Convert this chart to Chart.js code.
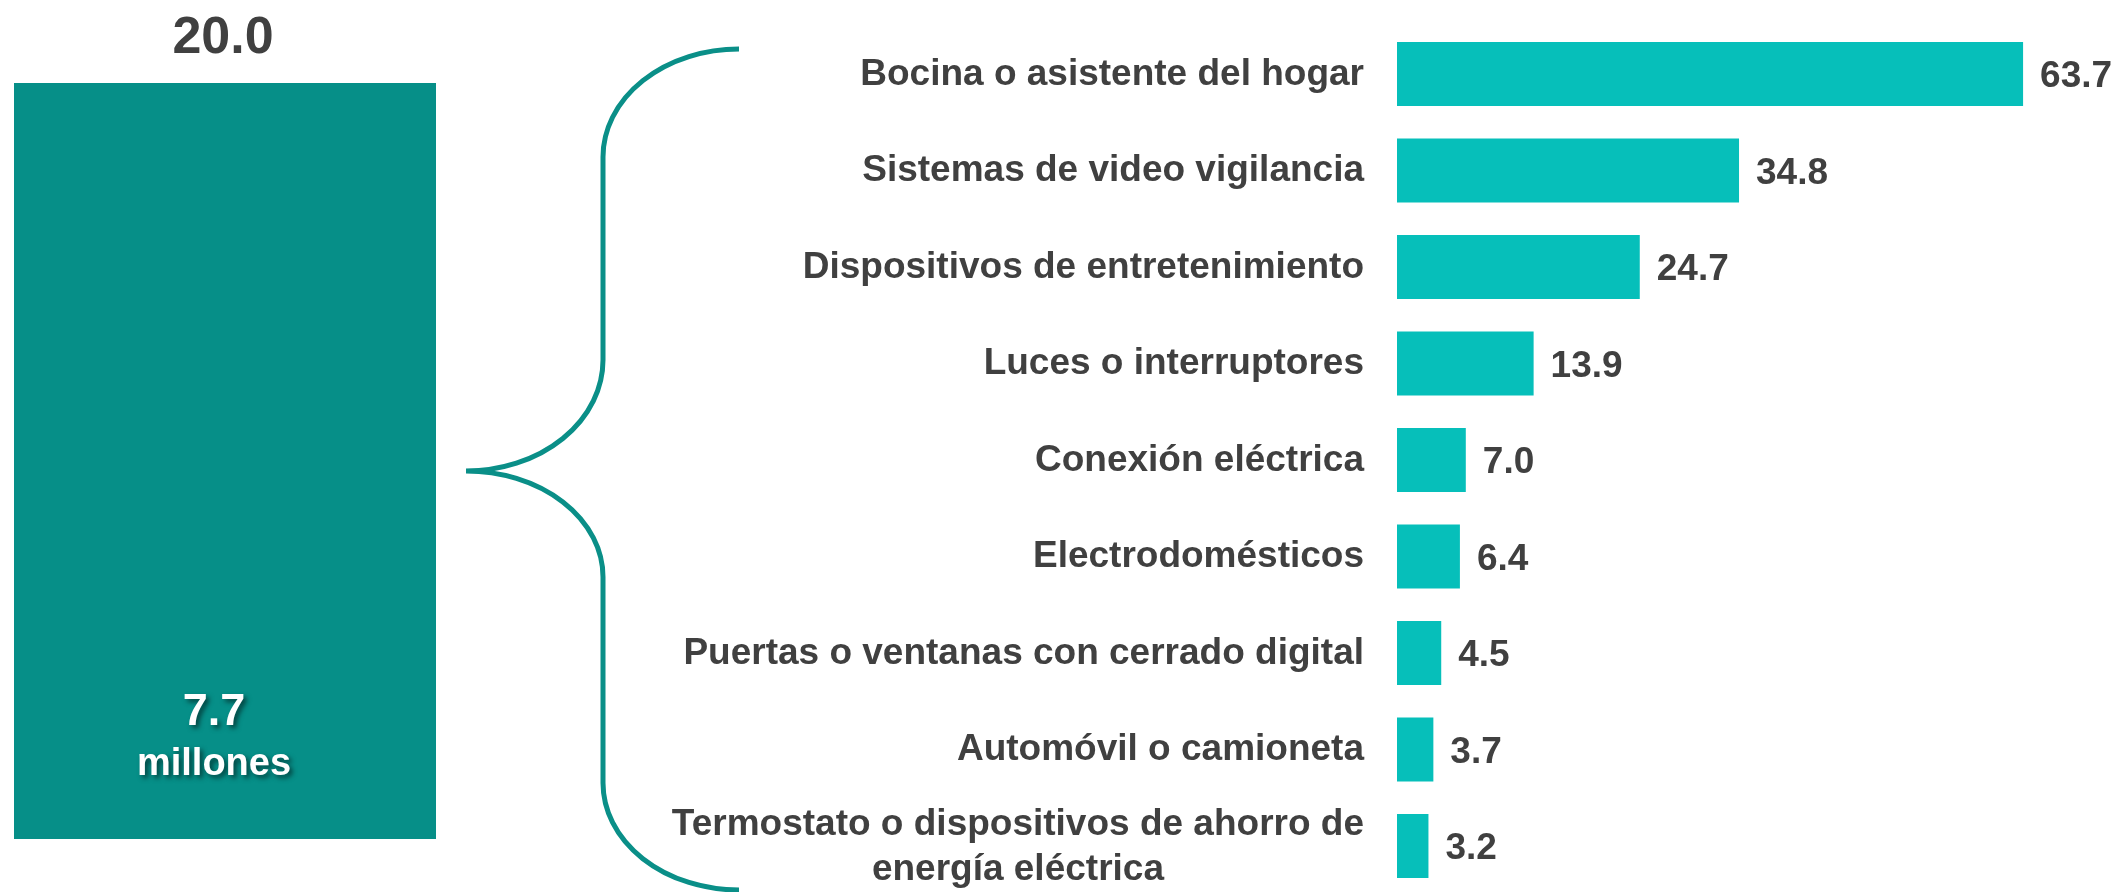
<!DOCTYPE html>
<html>
<head>
<meta charset="utf-8">
<script src="https://cdn.jsdelivr.net/npm/chart.js@4.4.1/dist/chart.umd.min.js"></script>
<style>
  html, body { margin: 0; padding: 0; background: #ffffff; overflow: hidden; }
  #wrap { position: relative; width: 2116px; height: 892px; }
  #main { position: absolute; left: 0; top: 0; }
  #left { position: absolute; left: 0; top: 0; }
</style>
</head>
<body>
<div id="wrap">
  <canvas id="main" width="2116" height="892"></canvas>
  <canvas id="left" width="460" height="892"></canvas>
</div>
<script>
// ---- data ----
const categories = [
  'Bocina o asistente del hogar',
  'Sistemas de video vigilancia',
  'Dispositivos de entretenimiento',
  'Luces o interruptores',
  'Conexión eléctrica',
  'Electrodomésticos',
  'Puertas o ventanas con cerrado digital',
  'Automóvil o camioneta',
  ['Termostato o dispositivos de ahorro de', 'energía eléctrica']
];
const values = [63.7, 34.8, 24.7, 13.9, 7.0, 6.4, 4.5, 3.7, 3.2];
const totalCategory = ['Total'];
const totalValues = [20.0];
const totalSubLabels = ['7.7', 'millones'];

const FONT = '"Liberation Sans", Arial, Helvetica, sans-serif';
const TEXT = '#404040';

// category labels + value labels for the right chart
const labelsPlugin = {
  id: 'labelsPlugin',
  afterDatasetsDraw(chart) {
    const ctx = chart.ctx;
    const yScale = chart.scales.y;
    const meta = chart.getDatasetMeta(0);
    const rightEdge = chart.chartArea.left - 33;
    ctx.save();
    ctx.fillStyle = TEXT;
    ctx.font = 'bold 37px ' + FONT;
    ctx.textBaseline = 'alphabetic';
    categories.forEach((lab, i) => {
      const py = yScale.getPixelForValue(i);
      if (Array.isArray(lab)) {
        const widths = lab.map(l => ctx.measureText(l).width);
        const maxW = Math.max(...widths);
        const cx = rightEdge - maxW / 2;
        ctx.textAlign = 'center';
        const lh = 45;
        const start = py + 11 - (lab.length - 1) * lh / 2;
        lab.forEach((l, k) => ctx.fillText(l, cx, start + k * lh));
      } else {
        ctx.textAlign = 'right';
        ctx.fillText(lab, rightEdge, py + 10.5);
      }
    });
    ctx.textAlign = 'left';
    meta.data.forEach((bar, i) => {
      ctx.fillText(values[i].toFixed(1), bar.x + 17, bar.y + 13);
    });
    ctx.restore();
  }
};

// curly brace
const bracePlugin = {
  id: 'bracePlugin',
  afterDraw(chart) {
    const ctx = chart.ctx;
    ctx.save();
    ctx.strokeStyle = '#0a8f88';
    ctx.lineWidth = 5;
    ctx.beginPath();
    ctx.ellipse(739, 157, 136, 108, 0, Math.PI * 1.5, Math.PI, true);
    ctx.lineTo(603, 360);
    ctx.ellipse(466, 360, 137, 111, 0, 0, Math.PI / 2, false);
    ctx.ellipse(466, 577, 137, 106, 0, -Math.PI / 2, 0, false);
    ctx.lineTo(603, 783);
    ctx.ellipse(739, 783, 136, 107, 0, Math.PI, Math.PI / 2, true);
    ctx.stroke();
    ctx.restore();
  }
};

new Chart(document.getElementById('main'), {
  type: 'bar',
  data: {
    labels: categories,
    datasets: [{
      data: values,
      backgroundColor: '#06bfba',
      borderWidth: 0,
      categoryPercentage: 1,
      barPercentage: 0.663,
      clip: false
    }]
  },
  options: {
    indexAxis: 'y',
    responsive: false,
    animation: false,
    layout: { padding: { left: 1397, right: 31, top: 74, bottom: 46 } },
    scales: {
      x: { display: false, min: 0, max: 70 },
      y: { display: false, offset: false }
    },
    plugins: { legend: { display: false }, tooltip: { enabled: false } }
  },
  plugins: [labelsPlugin, bracePlugin]
});

// left total bar
const totalPlugin = {
  id: 'totalPlugin',
  afterDatasetsDraw(chart) {
    const ctx = chart.ctx;
    const bar = chart.getDatasetMeta(0).data[0];
    ctx.save();
    ctx.textAlign = 'center';
    ctx.textBaseline = 'alphabetic';
    ctx.fillStyle = TEXT;
    ctx.font = 'bold 52px ' + FONT;
    ctx.fillText(totalValues[0].toFixed(1), bar.x - 2, bar.y - 30);
    ctx.fillStyle = '#ffffff';
    ctx.shadowColor = 'rgba(0,0,0,0.55)';
    ctx.shadowOffsetX = 3;
    ctx.shadowOffsetY = 3;
    ctx.shadowBlur = 5;
    ctx.font = 'bold 45px ' + FONT;
    ctx.fillText(totalSubLabels[0], bar.x - 11, bar.base - 114);
    ctx.font = 'bold 38px ' + FONT;
    ctx.fillText(totalSubLabels[1], bar.x - 11, bar.base - 64);
    ctx.restore();
  }
};

new Chart(document.getElementById('left'), {
  type: 'bar',
  data: {
    labels: totalCategory,
    datasets: [{
      data: totalValues,
      backgroundColor: '#068f88',
      borderWidth: 0,
      categoryPercentage: 1,
      barPercentage: 1
    }]
  },
  options: {
    responsive: false,
    animation: false,
    layout: { padding: { left: 14, right: 24, top: 83, bottom: 53 } },
    scales: {
      x: { display: false },
      y: { display: false, min: 0, max: 20 }
    },
    plugins: { legend: { display: false }, tooltip: { enabled: false } }
  },
  plugins: [totalPlugin]
});
</script>
</body>
</html>
